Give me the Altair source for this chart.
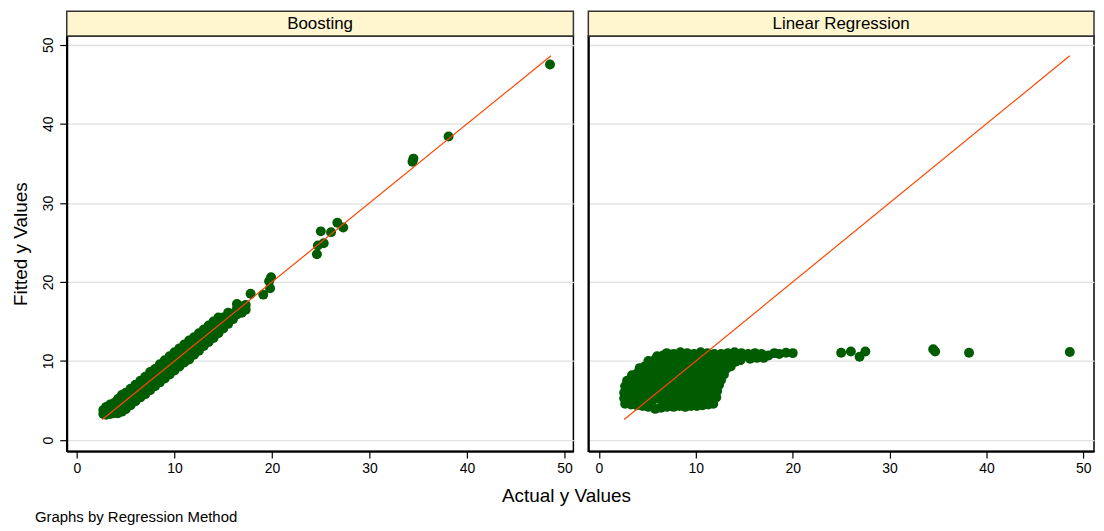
import altair as alt
import pandas as pd

# ---------------- data ----------------
panel_titles = ["Boosting", "Linear Regression"]
x_title = ["Actual y Values"]
y_title = "Fitted y Values"
note = ["Graphs by Regression Method"]
tick_values = [0, 10, 20, 30, 40, 50]

# 45-degree reference line (min to max of actual y)
line_actual = [2.6, 48.6]
line_fitted = [2.6, 48.6]

# Boosting: (actual, fitted)
boost_band = [
    (2.7, 3.3), (2.7, 3.8),
    (3.0, 3.2), (3.0, 3.7), (3.0, 4.2),
    (3.4, 3.3), (3.4, 3.9), (3.4, 4.5),
    (3.8, 3.4), (3.8, 4.0), (3.8, 4.7),
    (4.2, 3.4), (4.2, 4.0), (4.2, 4.6), (4.2, 5.2),
    (4.6, 3.6), (4.6, 4.3), (4.6, 5.0), (4.6, 5.7),
    (5.0, 3.9), (5.0, 4.7), (5.0, 5.4), (5.0, 6.0),
    (5.5, 4.4), (5.5, 5.1), (5.5, 5.8), (5.5, 6.5),
    (6.0, 4.9), (6.0, 5.6), (6.0, 6.3), (6.0, 7.0),
    (6.5, 5.4), (6.5, 6.1), (6.5, 6.8), (6.5, 7.5),
    (7.0, 5.8), (7.0, 6.6), (7.0, 7.3), (7.0, 8.0),
    (7.5, 6.3), (7.5, 7.0), (7.5, 7.8), (7.5, 8.6),
    (8.0, 6.8), (8.0, 7.5), (8.0, 8.3), (8.0, 9.0),
    (8.5, 7.3), (8.5, 8.0), (8.5, 8.8), (8.5, 9.6),
    (9.0, 7.8), (9.0, 8.5), (9.0, 9.3), (9.0, 10.1),
    (9.5, 8.3), (9.5, 9.0), (9.5, 9.8), (9.5, 10.6),
    (10.0, 8.8), (10.0, 9.5), (10.0, 10.3), (10.0, 11.1),
    (10.5, 9.3), (10.5, 10.0), (10.5, 10.8), (10.5, 11.6),
    (11.0, 9.8), (11.0, 10.5), (11.0, 11.3), (11.0, 12.1),
    (11.5, 10.2), (11.5, 11.0), (11.5, 11.8), (11.5, 12.6),
    (12.0, 10.8), (12.0, 11.5), (12.0, 12.3), (12.0, 13.0),
    (12.5, 11.3), (12.5, 12.0), (12.5, 12.8), (12.5, 13.5),
    (13.0, 11.9), (13.0, 12.6), (13.0, 13.3), (13.0, 14.0),
    (13.5, 12.4), (13.5, 13.1), (13.5, 13.8), (13.5, 14.5),
    (14.0, 12.9), (14.0, 13.6), (14.0, 14.3), (14.0, 15.0),
    (14.5, 13.5), (14.5, 14.2), (14.5, 14.9), (14.5, 15.5),
    (15.0, 14.1), (15.0, 14.8), (15.0, 15.5),
    (15.5, 14.7), (15.5, 15.4), (15.5, 16.1),
    (16.0, 15.3), (16.0, 16.0),
    (16.4, 15.9), (16.4, 16.6), (16.4, 17.2),
    (16.9, 16.1), (16.9, 16.9),
    (17.3, 16.5), (17.3, 17.1),
]
boost_outliers = [
    (17.8, 18.5), (19.1, 18.4), (19.7, 20.1), (19.9, 20.6), (19.8, 19.2),
    (24.6, 23.5), (24.7, 24.6), (25.3, 24.9), (25.0, 26.4), (26.05, 26.3),
    (26.7, 27.5), (27.3, 26.9), (34.4, 35.2), (34.5, 35.6), (38.1, 38.4),
    (48.5, 47.5),
]

# Linear regression: (actual, fitted)
lr_cloud = [
    (2.7, 4.6), (3.3, 4.5), (3.9, 4.4), (4.5, 4.3), (5.1, 4.2), (5.8, 3.95), (6.4, 4.1),
    (7.0, 4.2), (7.7, 4.2), (8.3, 4.3), (8.9, 4.2), (9.5, 4.3), (10.1, 4.3), (10.7, 4.4),
    (11.3, 4.5), (11.8, 4.6),
    (2.6, 5.3), (3.2, 5.2), (3.8, 5.1), (4.4, 5.2), (5.0, 5.0), (5.6, 5.1), (6.2, 5.2),
    (6.8, 5.0), (7.4, 5.1), (8.0, 5.2), (8.6, 5.1), (9.2, 5.0), (9.8, 5.2), (10.4, 5.1),
    (11.0, 5.2), (11.6, 5.0), (12.1, 5.4),
    (2.6, 6.0), (3.2, 6.1), (3.8, 5.9), (4.4, 6.0), (5.0, 6.1), (5.6, 5.9), (6.2, 6.0),
    (6.8, 6.1), (7.4, 5.9), (8.0, 6.0), (8.6, 6.1), (9.2, 5.9), (9.8, 6.0), (10.4, 6.1),
    (11.0, 5.9), (11.6, 6.0), (12.2, 6.2),
    (2.7, 6.8), (3.3, 6.7), (3.9, 6.9), (4.5, 6.8), (5.1, 6.7), (5.7, 6.9), (6.3, 6.8),
    (6.9, 6.7), (7.5, 6.9), (8.1, 6.8), (8.7, 6.7), (9.3, 6.9), (9.9, 6.8), (10.5, 6.7),
    (11.1, 6.9), (11.7, 6.8), (12.4, 7.0),
    (2.9, 7.5), (3.4, 7.7), (4.0, 7.6), (4.6, 7.5), (5.2, 7.7), (5.8, 7.6), (6.4, 7.5),
    (7.0, 7.7), (7.6, 7.6), (8.2, 7.5), (8.8, 7.7), (9.4, 7.6), (10.0, 7.5), (10.6, 7.7),
    (11.2, 7.6), (11.8, 7.5), (12.6, 7.6),
    (3.4, 8.2), (3.9, 8.4), (4.5, 8.3), (5.1, 8.5), (5.7, 8.4), (6.3, 8.3), (6.9, 8.5),
    (7.5, 8.4), (8.1, 8.3), (8.7, 8.5), (9.3, 8.4), (9.9, 8.3), (10.5, 8.5), (11.1, 8.4),
    (11.7, 8.3), (12.3, 8.5), (12.9, 8.3),
    (4.2, 9.1), (4.7, 9.3), (5.3, 9.2), (5.9, 9.1), (6.5, 9.3), (7.1, 9.2), (7.7, 9.1),
    (8.3, 9.3), (8.9, 9.2), (9.5, 9.1), (10.1, 9.3), (10.7, 9.2), (11.3, 9.1), (11.9, 9.3),
    (12.5, 9.2), (13.1, 9.0), (13.6, 9.3),
    (5.1, 10.0), (5.7, 10.1), (6.3, 9.9), (6.9, 10.0), (7.5, 10.1), (8.1, 9.9), (8.7, 10.0),
    (9.3, 10.1), (9.9, 9.9), (10.5, 10.0), (11.1, 10.1), (11.7, 9.9), (12.3, 10.0),
    (12.9, 10.1), (13.5, 9.9), (14.1, 9.9), (14.6, 10.1),
    (6.0, 10.6), (6.6, 10.7), (7.2, 10.5), (7.8, 10.6), (8.4, 10.7), (9.0, 10.5), (9.6, 10.6),
    (10.2, 10.7), (10.8, 10.5), (11.4, 10.6), (12.0, 10.7), (12.6, 10.5), (13.2, 10.6),
    (13.8, 10.7), (14.4, 10.5), (15.0, 10.6), (15.6, 10.3), (16.3, 10.4), (17.0, 10.4),
    (7.0, 11.0), (7.7, 10.9), (8.4, 11.1), (9.1, 11.0), (9.8, 10.9), (10.5, 11.1), (11.2, 11.0),
    (11.9, 10.9), (12.6, 10.9), (13.3, 11.0), (14.0, 11.1), (14.7, 11.0), (15.4, 10.9),
    (16.1, 11.0), (16.8, 10.9), (17.5, 10.7), (18.1, 11.0), (18.6, 10.9), (19.3, 11.05),
    (20.0, 11.0),
]
lr_outliers = [
    (25.0, 11.05), (26.0, 11.2), (26.9, 10.55), (27.5, 11.2),
    (34.5, 11.5), (34.7, 11.2), (38.2, 11.05), (48.6, 11.15),
]

# ---------------- styling ----------------
FONT = "Liberation Sans"
GREEN = "#005c00"
ORANGE = "#ff4500"
STRIP_FILL = "#fff6d0"
GRID = "#e0e0e0"
PLOT_H = 417
Y_DOMAIN = [-1.4, 51.1]
STRIP_H = 25


def make_panel(points, title, width, xdom, left):
    pts = pd.DataFrame(points, columns=["a", "f"])
    ln = pd.DataFrame({"a": line_actual, "f": line_fitted})
    xs = alt.Scale(domain=xdom, nice=False, zero=False)
    ys = alt.Scale(domain=Y_DOMAIN, nice=False, zero=False)
    xax = alt.Axis(values=tick_values, title=None, grid=False, tickSize=7,
                   tickColor="black", tickWidth=1.2, domainColor="black",
                   domainWidth=2, labelFont=FONT, labelFontSize=14,
                   labelColor="black", labelPadding=3)
    if left:
        yax = alt.Axis(values=tick_values, title=y_title, grid=True, gridColor=GRID,
                       gridWidth=1.3, tickSize=7, tickColor="black", tickWidth=1.2,
                       domainColor="black", domainWidth=2, labelAngle=270,
                       labelAlign="center", labelBaseline="bottom", labelFont=FONT,
                       labelFontSize=14, labelColor="black", labelPadding=4,
                       titleFont=FONT, titleFontSize=19, titleFontWeight="normal",
                       titleColor="black", titlePadding=11)
    else:
        yax = alt.Axis(values=tick_values, title=None, grid=True, gridColor=GRID,
                       gridWidth=1.3, labels=False, ticks=False,
                       domainColor="black", domainWidth=2)
    X = alt.X("a:Q", scale=xs, axis=xax)
    Y = alt.Y("f:Q", scale=ys, axis=yax)

    dots = alt.Chart(pts).mark_circle(size=100, color=GREEN, opacity=1).encode(x=X, y=Y)
    line = alt.Chart(ln).mark_line(color=ORANGE, strokeWidth=1.2).encode(x=X, y=Y)

    sdf = pd.DataFrame({"t": [title]})
    strip = alt.Chart(sdf).mark_rect(fill=STRIP_FILL, stroke="#333333", strokeWidth=1.5).encode(
        x=alt.value(0), x2=alt.value(width), y=alt.value(-STRIP_H), y2=alt.value(0))
    strip_text = alt.Chart(sdf).mark_text(font=FONT, fontSize=17, color="black",
                                          baseline="middle", align="center").encode(
        x=alt.value(width / 2), y=alt.value(-STRIP_H / 2), text="t:N")
    layers = [dots, line, strip, strip_text]
    if left:
        xt = alt.Chart(pd.DataFrame({"t": x_title})).mark_text(
            font=FONT, fontSize=19, color="black", align="center",
            baseline="alphabetic").encode(x=alt.value(502), y=alt.value(PLOT_H + 51), text="t:N")
        nt = alt.Chart(pd.DataFrame({"t": note})).mark_text(
            font=FONT, fontSize=15, color="black", align="left",
            baseline="alphabetic").encode(x=alt.value(-32), y=alt.value(PLOT_H + 71), text="t:N")
        layers += [xt, nt]
    return alt.layer(*layers).properties(width=width, height=PLOT_H)


left = make_panel(boost_band + boost_outliers, panel_titles[0], 509, [-1.05, 50.9], True)
right = make_panel(lr_cloud + lr_outliers, panel_titles[1], 508, [-1.1, 51.1], False)

chart = alt.hconcat(left, right, spacing=15, bounds="flush").properties(
    padding={"left": 3, "top": 0, "right": 0, "bottom": 0},
    background="white",
).configure_view(stroke="black", strokeWidth=1.5)

chart.save("out.html", embed_options={"renderer": "svg", "actions": False})
